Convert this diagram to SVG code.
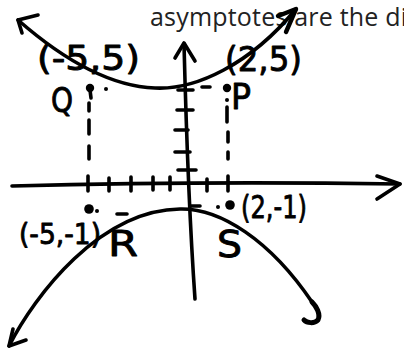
<svg xmlns="http://www.w3.org/2000/svg" width="404" height="350" viewBox="0 0 404 350">
<style>
.ink{fill:none;stroke:#000;stroke-width:3.6;stroke-linecap:round;stroke-linejoin:round}
.hand{font-family:"DejaVu Sans",sans-serif;fill:#000;stroke:#000;stroke-width:0.9;stroke-linejoin:round}
.dot{fill:#000}
</style>
<rect width="404" height="350" fill="#fff"/>
<text x="150" y="26" font-family="Open Sans, sans-serif" font-size="25" fill="#222" textLength="257" lengthAdjust="spacing">asymptotes are the di</text>
<g id="axes" class="ink">
<path d="M12,186 Q200,181 400,184"/>
<path d="M377,176 L400,184 L377,199"/>
<path d="M184,44 Q188,200 195,299"/>
<path d="M175,58 L184,43 L195,61"/>
</g>
<g id="ticks" class="ink">
<path d="M88,176 V191 M109,178 V191 M131,177 V191 M153,177 V190 M170,177 V190 M207,179 V191 M228,176 V191"/>
<path d="M178,90 H193 M177,110 H193 M175,130 H188 M175,152 H190 M178,170 H196"/>
</g>
<g id="dashes" class="ink">
<path d="M89,103 V111 M89,120 V134 M89,146 V159"/>
<path d="M227,107 V122 M228,132 V142 M228,152 V159"/>
<path d="M202,87 H210 M117,214 H127 M190,206 H200"/>
</g>
<g id="points">
<circle class="dot" cx="90" cy="88" r="4.2"/>
<path class="ink" d="M90,90 L91,98"/>
<circle class="dot" cx="106" cy="89" r="2"/>
<circle class="dot" cx="227" cy="88" r="4.2"/>
<circle class="dot" cx="227" cy="100" r="2"/>
<circle class="dot" cx="89" cy="209" r="4.8"/>
<circle class="dot" cx="97" cy="211" r="2"/>
<circle class="dot" cx="218" cy="207" r="2"/>
<circle class="dot" cx="230" cy="205" r="4.8"/>
</g>
<g id="labels" class="hand">
<text x="37" y="70" font-size="34" textLength="103" lengthAdjust="spacingAndGlyphs">(-5,5)</text>
<text x="225" y="71" font-size="34" textLength="77" lengthAdjust="spacingAndGlyphs">(2,5)</text>
<text x="51" y="112" font-size="34" textLength="22" lengthAdjust="spacingAndGlyphs">Q</text>
<text x="231" y="109" font-size="35" textLength="20" lengthAdjust="spacingAndGlyphs">P</text>
<text x="19" y="244" font-size="29" textLength="82" lengthAdjust="spacingAndGlyphs">(-5,-1)</text>
<text x="108" y="256" font-size="36" textLength="30" lengthAdjust="spacingAndGlyphs">R</text>
<text x="217" y="257" font-size="38" textLength="25" lengthAdjust="spacingAndGlyphs">S</text>
<text x="241" y="218" font-size="32" textLength="66" lengthAdjust="spacingAndGlyphs">(2,-1)</text>
</g>
<g id="curves" class="ink">
<path d="M18,20 C50,48 100,86 155,88 C195,90 250,65 296,9"/>
<path d="M38,15 L18,20 L22,33"/>
<path d="M278,16 L296,9 L286,32" stroke-width="4.4"/>
<path d="M9,346 C35,295 100,210 180,209 C220,208 270,240 312,302"/>
<path d="M312,302 C316,306 321,314 318,320 C314,324 307,323 304,320" stroke-width="5"/>
<path d="M13,329 L9,346 L26,340"/>
</g>
</svg>
